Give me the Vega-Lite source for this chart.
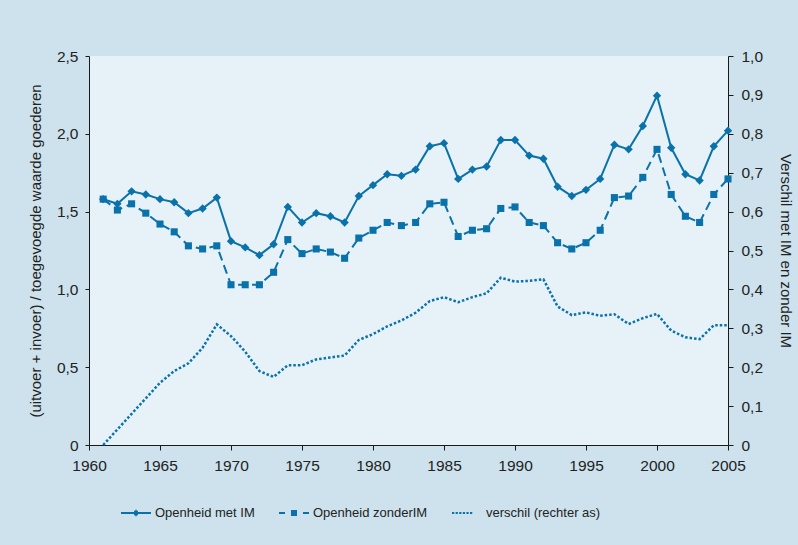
{
  "$schema": "https://vega.github.io/schema/vega-lite/v6.json",
  "width": 639,
  "height": 389,
  "autosize": {"type": "none"},
  "padding": {"left": 89, "top": 56, "right": 70, "bottom": 100},
  "background": "#cde2ed",
  "config": {
    "font": "Liberation Sans",
    "view": {"fill": "#e6f1f8", "stroke": null},
    "axis": {
      "grid": false,
      "domainColor": "#1a1a1a",
      "tickColor": "#1a1a1a",
      "labelColor": "#222222",
      "titleColor": "#222222",
      "labelFontSize": 15.5,
      "titleFontSize": 15,
      "titleFontWeight": "normal"
    }
  },
  "data": {
    "values": [
      {"jaar": 1961, "Openheid met IM": 1.58, "Openheid zonderIM": 1.58, "verschil (rechter as)": 0.0},
      {"jaar": 1962, "Openheid met IM": 1.55, "Openheid zonderIM": 1.51, "verschil (rechter as)": 0.04},
      {"jaar": 1963, "Openheid met IM": 1.63, "Openheid zonderIM": 1.55, "verschil (rechter as)": 0.08},
      {"jaar": 1964, "Openheid met IM": 1.61, "Openheid zonderIM": 1.49, "verschil (rechter as)": 0.12},
      {"jaar": 1965, "Openheid met IM": 1.58, "Openheid zonderIM": 1.42, "verschil (rechter as)": 0.16},
      {"jaar": 1966, "Openheid met IM": 1.56, "Openheid zonderIM": 1.37, "verschil (rechter as)": 0.19},
      {"jaar": 1967, "Openheid met IM": 1.49, "Openheid zonderIM": 1.28, "verschil (rechter as)": 0.21},
      {"jaar": 1968, "Openheid met IM": 1.52, "Openheid zonderIM": 1.26, "verschil (rechter as)": 0.25},
      {"jaar": 1969, "Openheid met IM": 1.59, "Openheid zonderIM": 1.28, "verschil (rechter as)": 0.31},
      {"jaar": 1970, "Openheid met IM": 1.31, "Openheid zonderIM": 1.03, "verschil (rechter as)": 0.28},
      {"jaar": 1971, "Openheid met IM": 1.27, "Openheid zonderIM": 1.03, "verschil (rechter as)": 0.24},
      {"jaar": 1972, "Openheid met IM": 1.22, "Openheid zonderIM": 1.03, "verschil (rechter as)": 0.19},
      {"jaar": 1973, "Openheid met IM": 1.29, "Openheid zonderIM": 1.11, "verschil (rechter as)": 0.175},
      {"jaar": 1974, "Openheid met IM": 1.53, "Openheid zonderIM": 1.32, "verschil (rechter as)": 0.205},
      {"jaar": 1975, "Openheid met IM": 1.43, "Openheid zonderIM": 1.23, "verschil (rechter as)": 0.205},
      {"jaar": 1976, "Openheid met IM": 1.49, "Openheid zonderIM": 1.26, "verschil (rechter as)": 0.22},
      {"jaar": 1977, "Openheid met IM": 1.47, "Openheid zonderIM": 1.24, "verschil (rechter as)": 0.225},
      {"jaar": 1978, "Openheid met IM": 1.43, "Openheid zonderIM": 1.2, "verschil (rechter as)": 0.23},
      {"jaar": 1979, "Openheid met IM": 1.6, "Openheid zonderIM": 1.33, "verschil (rechter as)": 0.27},
      {"jaar": 1980, "Openheid met IM": 1.67, "Openheid zonderIM": 1.38, "verschil (rechter as)": 0.285},
      {"jaar": 1981, "Openheid met IM": 1.74, "Openheid zonderIM": 1.43, "verschil (rechter as)": 0.305},
      {"jaar": 1982, "Openheid met IM": 1.73, "Openheid zonderIM": 1.41, "verschil (rechter as)": 0.32},
      {"jaar": 1983, "Openheid met IM": 1.77, "Openheid zonderIM": 1.43, "verschil (rechter as)": 0.34},
      {"jaar": 1984, "Openheid met IM": 1.92, "Openheid zonderIM": 1.55, "verschil (rechter as)": 0.37},
      {"jaar": 1985, "Openheid met IM": 1.94, "Openheid zonderIM": 1.56, "verschil (rechter as)": 0.38},
      {"jaar": 1986, "Openheid met IM": 1.71, "Openheid zonderIM": 1.34, "verschil (rechter as)": 0.367},
      {"jaar": 1987, "Openheid met IM": 1.77, "Openheid zonderIM": 1.38, "verschil (rechter as)": 0.38},
      {"jaar": 1988, "Openheid met IM": 1.79, "Openheid zonderIM": 1.39, "verschil (rechter as)": 0.39},
      {"jaar": 1989, "Openheid met IM": 1.96, "Openheid zonderIM": 1.52, "verschil (rechter as)": 0.43},
      {"jaar": 1990, "Openheid met IM": 1.96, "Openheid zonderIM": 1.53, "verschil (rechter as)": 0.42},
      {"jaar": 1991, "Openheid met IM": 1.86, "Openheid zonderIM": 1.43, "verschil (rechter as)": 0.422},
      {"jaar": 1992, "Openheid met IM": 1.84, "Openheid zonderIM": 1.41, "verschil (rechter as)": 0.426},
      {"jaar": 1993, "Openheid met IM": 1.66, "Openheid zonderIM": 1.3, "verschil (rechter as)": 0.356},
      {"jaar": 1994, "Openheid met IM": 1.6, "Openheid zonderIM": 1.26, "verschil (rechter as)": 0.334},
      {"jaar": 1995, "Openheid met IM": 1.64, "Openheid zonderIM": 1.3, "verschil (rechter as)": 0.341},
      {"jaar": 1996, "Openheid met IM": 1.71, "Openheid zonderIM": 1.38, "verschil (rechter as)": 0.332},
      {"jaar": 1997, "Openheid met IM": 1.93, "Openheid zonderIM": 1.59, "verschil (rechter as)": 0.336},
      {"jaar": 1998, "Openheid met IM": 1.9, "Openheid zonderIM": 1.6, "verschil (rechter as)": 0.311},
      {"jaar": 1999, "Openheid met IM": 2.05, "Openheid zonderIM": 1.72, "verschil (rechter as)": 0.326},
      {"jaar": 2000, "Openheid met IM": 2.245, "Openheid zonderIM": 1.9, "verschil (rechter as)": 0.337},
      {"jaar": 2001, "Openheid met IM": 1.91, "Openheid zonderIM": 1.61, "verschil (rechter as)": 0.294},
      {"jaar": 2002, "Openheid met IM": 1.74, "Openheid zonderIM": 1.47, "verschil (rechter as)": 0.277},
      {"jaar": 2003, "Openheid met IM": 1.7, "Openheid zonderIM": 1.43, "verschil (rechter as)": 0.272},
      {"jaar": 2004, "Openheid met IM": 1.92, "Openheid zonderIM": 1.61, "verschil (rechter as)": 0.308},
      {"jaar": 2005, "Openheid met IM": 2.02, "Openheid zonderIM": 1.71, "verschil (rechter as)": 0.308}
    ]
  },
  "encoding": {
    "x": {
      "field": "jaar",
      "type": "quantitative",
      "scale": {"domain": [1960, 2005], "nice": false, "zero": false},
      "axis": {
        "title": null,
        "values": [1960, 1965, 1970, 1975, 1980, 1985, 1990, 1995, 2000, 2005],
        "format": "d",
        "tickSize": 5,
        "labelPadding": 8,
        "labelFlush": false
      }
    }
  },
  "layer": [
    {
      "encoding": {
        "y": {
          "type": "quantitative",
          "scale": {"domain": [0, 2.5], "nice": false},
          "axis": {
            "orient": "left",
            "title": "(uitvoer + invoer) / toegevoegde waarde goederen",
            "values": [0, 0.5, 1, 1.5, 2, 2.5],
            "labelExpr": "datum.value == 0 ? '0' : replace(format(datum.value, '.1f'), '.', ',')",
            "tickSize": 4,
            "labelPadding": 7,
            "titlePadding": 13
          }
        }
      },
      "layer": [
        {
          "mark": {"type": "line", "color": "#0a72aa", "strokeWidth": 2},
          "encoding": {"y": {"field": "Openheid met IM"}}
        },
        {
          "mark": {"type": "point", "shape": "diamond", "filled": true, "color": "#0a72aa", "opacity": 1, "size": 70},
          "encoding": {"y": {"field": "Openheid met IM"}}
        },
        {
          "mark": {"type": "line", "color": "#0a72aa", "strokeWidth": 2, "strokeDash": [9, 5]},
          "encoding": {"y": {"field": "Openheid zonderIM"}}
        },
        {
          "mark": {"type": "point", "shape": "square", "filled": true, "color": "#0a72aa", "opacity": 1, "size": 50},
          "encoding": {"y": {"field": "Openheid zonderIM"}}
        },
        {
          "transform": [
            {"fold": ["Openheid met IM", "Openheid zonderIM", "verschil (rechter as)"], "as": ["reeks", "waarde"]}
          ],
          "mark": {"type": "point", "filled": false, "opacity": 0, "size": 900, "strokeWidth": 2, "color": "#0a72aa"},
          "encoding": {
            "y": {"field": "waarde"},
            "shape": {
              "field": "reeks",
              "type": "nominal",
              "scale": {
                "domain": ["Openheid met IM", "Openheid zonderIM", "verschil (rechter as)"],
                "range": [
                  "M-1,0H1M-0.21,0H0.21M-0.13,-0.08H0.13M-0.13,0.08H0.13M-0.05,-0.15H0.05M-0.05,0.15H0.05",
                  "M-1,0H-0.6M0.6,0H1M-0.2,-0.14H0.2M-0.2,-0.07H0.2M-0.2,0H0.2M-0.2,0.07H0.2M-0.2,0.14H0.2",
                  "M-1,0H-0.85M-0.76,0H-0.61M-0.52,0H-0.37M-0.28,0H-0.13M-0.04,0H0.11M0.2,0H0.35"
                ]
              },
              "legend": {
                "title": null,
                "orient": "none",
                "direction": "horizontal",
                "legendX": 31,
                "legendY": 441,
                "symbolSize": 900,
                "symbolStrokeColor": "#0a72aa",
                "symbolStrokeWidth": 2,
                "symbolOpacity": 1,
                "labelFontSize": 13,
                "labelColor": "#222222",
                "labelOffset": 3,
                "columnPadding": 20,
                "encode": {
                  "symbols": {
                    "update": {
                      "opacity": {"value": 1},
                      "strokeOpacity": {"value": 1},
                      "stroke": {"value": "#0a72aa"},
                      "strokeWidth": {"value": 2},
                      "size": {"value": 900}
                    }
                  }
                }
              }
            }
          }
        }
      ]
    },
    {
      "mark": {"type": "line", "color": "#0a72aa", "strokeWidth": 2.5, "strokeDash": [2.5, 2]},
      "encoding": {
        "y": {
          "field": "verschil (rechter as)",
          "type": "quantitative",
          "scale": {"domain": [0, 1], "nice": false},
          "axis": {
            "orient": "right",
            "title": "Verschil met IM en zonder IM",
            "values": [0, 0.1, 0.2, 0.3, 0.4, 0.5, 0.6, 0.7, 0.8, 0.9, 1],
            "labelExpr": "datum.value == 0 ? '0' : replace(format(datum.value, '.1f'), '.', ',')",
            "tickSize": 5,
            "labelPadding": 8,
            "titlePadding": 15
          }
        }
      }
    }
  ],
  "resolve": {"scale": {"y": "independent"}}
}
